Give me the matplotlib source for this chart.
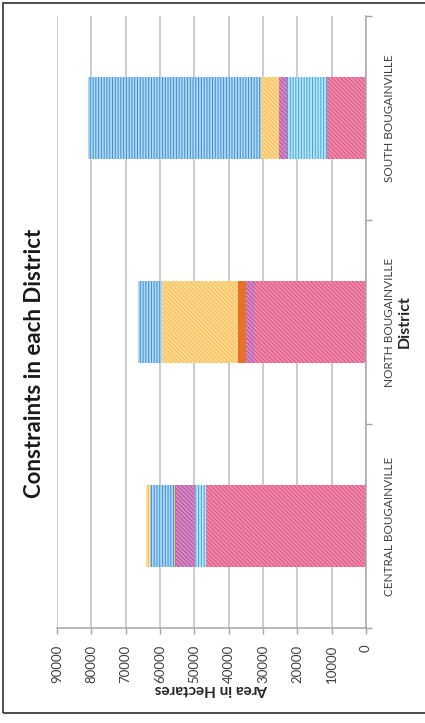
import matplotlib
matplotlib.use("Agg")
import matplotlib.pyplot as plt
from matplotlib.patches import Rectangle

plt.rcParams['font.family'] = ['Lato', 'DejaVu Sans']
plt.rcParams['hatch.linewidth'] = 0.7

districts = ["CENTRAL BOUGAINVILLE", "NORTH BOUGAINVILLE", "SOUTH BOUGAINVILLE"]

# stacked segments, bottom of the stack first (hectares)
pink = [46700, 32400, 11300]
cyan = [3100, 0, 11800]
purple = [5600, 2560, 2240]
orange_solid = [300, 2420, 0]
orange_diag = [0, 22100, 5250]
blue = [7200, 6830, 50300]
yellow = [1250, 0, 0]

x_ticks = [0, 10000, 20000, 30000, 40000, 50000, 60000, 70000, 80000, 90000]

# (values, face colour, hatch colour, hatch)
series = [
    (pink, '#F08AAC', '#DC5485', '\\' * 8),
    (cyan, '#BDE4F7', '#38A6E0', '||||||'),
    (purple, '#D88AC6', '#B8529F', '\\' * 8),
    (orange_solid, '#E8712A', '#E8712A', None),
    (orange_diag, '#FFDB94', '#F6BA52', '\\' * 8),
    (blue, '#B3D8F2', '#3A8ED6', '||||||'),
    (yellow, '#FFE6A0', '#F7BB45', '||||||'),
]

fig = plt.figure(figsize=(4.25, 7.23), dpi=100)
ax = fig.add_axes([57 / 425, (723 - 628) / 723, 309 / 425, 612 / 723])

pos = list(range(len(districts)))
left = [0] * len(districts)
for vals, face, hcol, hatch in series:
    ax.barh(pos, vals, height=0.4, left=left, color=face, edgecolor=hcol,
            hatch=hatch, linewidth=0, zorder=2)
    left = [a + b for a, b in zip(left, vals)]

ax.set_xlim(90000, 0)
ax.set_ylim(-0.5, 2.5)
ax.set_xticks(x_ticks)
ax.set_xticklabels([str(t) for t in x_ticks])
ax.grid(axis='x', color='#BEBEBE', linewidth=1.1, zorder=0)
ax.set_axisbelow(True)

ax.yaxis.tick_right()
ax.set_yticks(pos)
ax.set_yticklabels(districts, rotation=90, va='center', ha='left')
ax.set_yticks([-0.5, 0.5, 1.5, 2.5], minor=True)
ax.tick_params(axis='y', which='major', length=0, pad=13, labelsize=8.5,
               labelcolor='#404040')
ax.tick_params(axis='y', which='minor', length=4, color='#A6A6A6', width=1)
ax.tick_params(axis='x', length=4, color='#A6A6A6', width=1, pad=8,
               labelsize=9.5, labelrotation=90, labelcolor='#404040')

for s in ['top', 'left']:
    ax.spines[s].set_visible(False)
for s in ['right', 'bottom']:
    ax.spines[s].set_color('#A6A6A6')
    ax.spines[s].set_linewidth(1.1)

ax.set_xlabel("Area in Hectares", rotation=180, fontweight='bold', fontsize=11,
              va='center', color='#262626')
ax.xaxis.set_label_coords(0.5, (628 - 689) / 612)
ax.yaxis.set_label_position('right')
ax.set_ylabel("District", rotation=90, fontweight='bold', fontsize=11.5,
              va='center', ha='center', color='#262626')
ax.yaxis.set_label_coords((405 - 57) / 309, 0.5)

fig.text(35 / 425, (723 - 363) / 723, "Constraints in each District", rotation=90,
         fontsize=16, fontweight='bold', ha='center', va='center', color='#1a1a1a')

fig.patches.append(Rectangle((3 / 425, 10 / 723), 1.1, 710 / 723,
                             transform=fig.transFigure, fill=False,
                             edgecolor='#404040', linewidth=1.3))

fig.savefig("out.png", dpi=100)
